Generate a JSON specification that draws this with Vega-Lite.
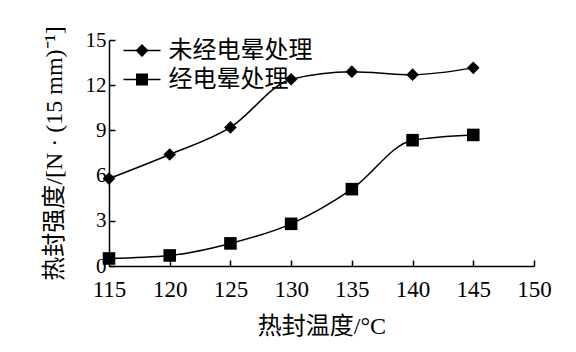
{
  "$schema": "https://vega.github.io/schema/vega-lite/v6.json",
  "width": 425,
  "height": 226,
  "autosize": "none",
  "padding": {"left": 109, "top": 40, "right": 42, "bottom": 86},
  "background": "white",
  "config": {
    "view": {"stroke": null},
    "font": "Times New Roman, Liberation Serif, Noto Sans CJK SC, serif",
    "axis": {
      "grid": false,
      "domainColor": "black",
      "domainWidth": 1.5,
      "tickColor": "black",
      "tickWidth": 1.5,
      "tickSize": -6,
      "labelFlush": false,
      "labelOverlap": false,
      "labelColor": "black",
      "titleColor": "black",
      "labelFontSize": 23,
      "titleFontSize": 24,
      "titleFontWeight": "normal",
      "labelFont": "Times New Roman, Liberation Serif, serif",
      "titleFont": "Times New Roman, Liberation Serif, Noto Sans CJK SC, serif"
    }
  },
  "data": {
    "values": [
      {"s": "未经电晕处理", "t": 115, "v": 5.8},
      {"s": "未经电晕处理", "t": 120, "v": 7.4},
      {"s": "未经电晕处理", "t": 125, "v": 9.2},
      {"s": "未经电晕处理", "t": 130, "v": 12.4},
      {"s": "未经电晕处理", "t": 135, "v": 12.9},
      {"s": "未经电晕处理", "t": 140, "v": 12.7},
      {"s": "未经电晕处理", "t": 145, "v": 13.15},
      {"s": "经电晕处理", "t": 115, "v": 0.5},
      {"s": "经电晕处理", "t": 120, "v": 0.7},
      {"s": "经电晕处理", "t": 125, "v": 1.5},
      {"s": "经电晕处理", "t": 130, "v": 2.8},
      {"s": "经电晕处理", "t": 135, "v": 5.1},
      {"s": "经电晕处理", "t": 140, "v": 8.35},
      {"s": "经电晕处理", "t": 145, "v": 8.7}
    ]
  },
  "encoding": {
    "x": {
      "field": "t",
      "type": "quantitative",
      "scale": {"domain": [115, 150], "nice": false, "zero": false},
      "axis": {
        "values": [115, 120, 125, 130, 135, 140, 145, 150],
        "title": "热封温度/°C",
        "labelPadding": 18,
        "titlePadding": 13
      }
    },
    "y": {
      "field": "v",
      "type": "quantitative",
      "scale": {"domain": [0, 15], "nice": false},
      "axis": {
        "values": [0, 3, 6, 9, 12, 15],
        "title": "热封强度/[N · (15 mm)⁻¹]",
        "labelPadding": 9,
        "labelFontSize": 21,
        "titlePadding": 19
      }
    }
  },
  "layer": [
    {
      "mark": {"type": "line", "interpolate": "monotone", "color": "black", "strokeWidth": 1.5},
      "encoding": {"detail": {"field": "s"}}
    },
    {
      "mark": {"type": "point", "filled": true, "opacity": 1, "color": "black", "size": 158},
      "encoding": {
        "shape": {
          "field": "s",
          "type": "nominal",
          "scale": {"domain": ["未经电晕处理", "经电晕处理"], "range": ["diamond", "square"]},
          "legend": null
        }
      }
    },
    {
      "transform": [{"filter": "false"}],
      "mark": {"type": "point", "filled": true, "opacity": 1, "color": "black"},
      "encoding": {
        "shape": {
          "field": "s",
          "type": "nominal",
          "scale": {
            "domain": ["未经电晕处理", "经电晕处理"],
            "range": ["M-1.48,-0.06H1.48V0.06H-1.48ZM0,-0.52L0.52,0L0,0.52L-0.52,0Z", "M-1.48,-0.06H1.48V0.06H-1.48ZM-0.48,-0.48H0.48V0.48H-0.48Z"]
          },
          "legend": {
            "orient": "none",
            "legendX": 19.5,
            "legendY": -3,
            "title": null,
            "padding": 0,
            "symbolSize": 625,
            "symbolFillColor": "black",
            "symbolOpacity": 1,
            "rowPadding": 3,
            "labelOffset": 13,
            "labelFontSize": 24,
            "labelColor": "black",
            "labelFont": "Times New Roman, Liberation Serif, Noto Sans CJK SC, serif"
          }
        }
      }
    }
  ],
  "resolve": {"scale": {"shape": "independent"}}
}
